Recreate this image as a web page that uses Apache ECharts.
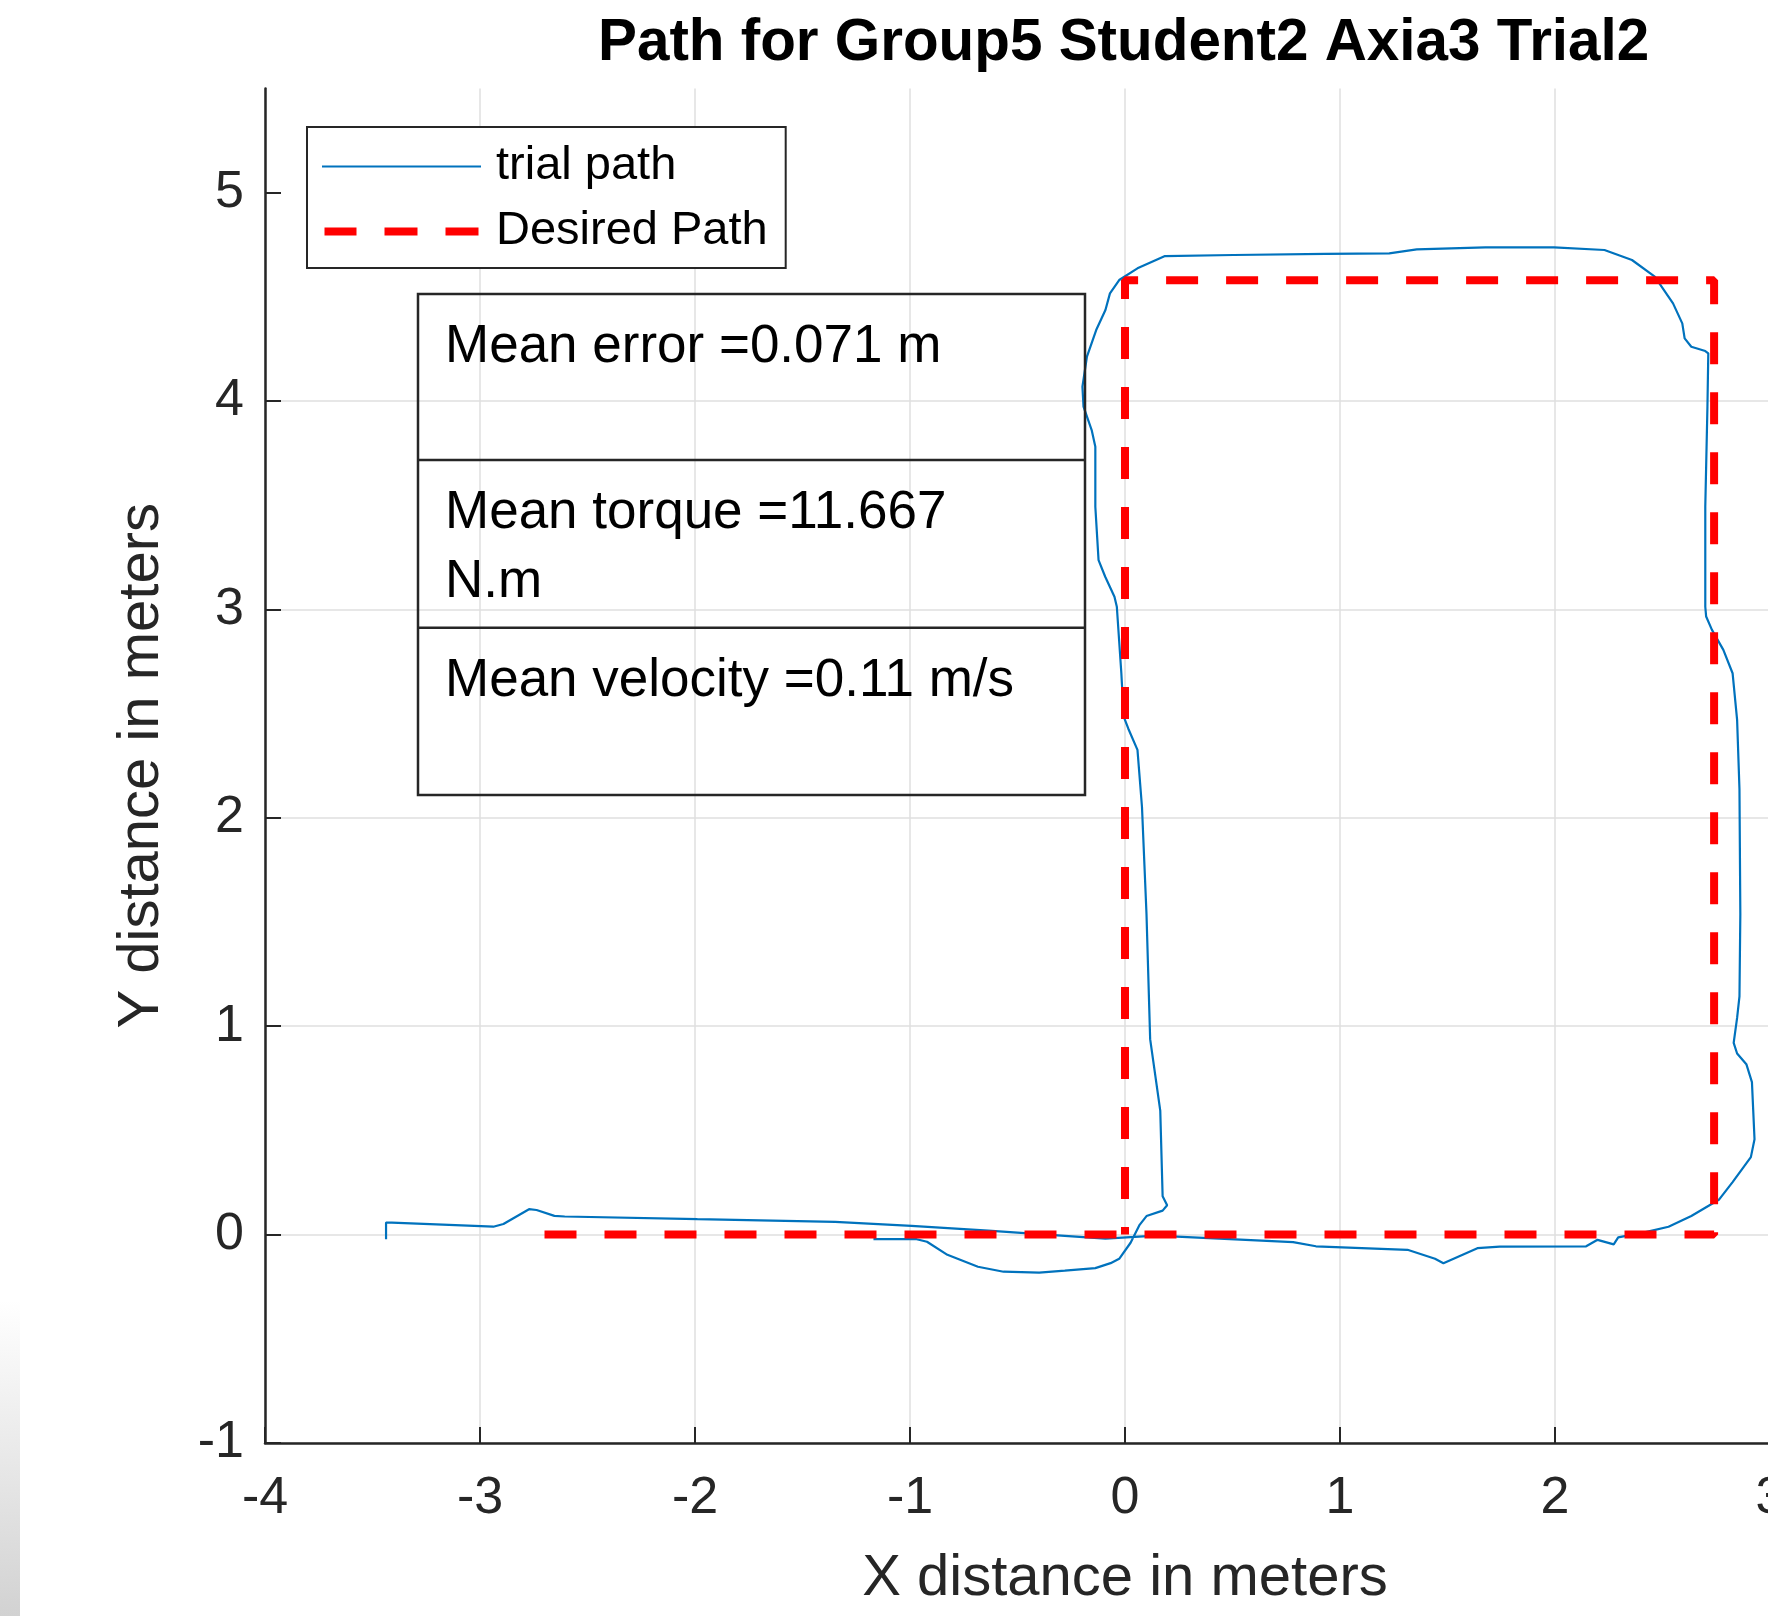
<!DOCTYPE html>
<html>
<head>
<meta charset="utf-8">
<title>Path for Group5 Student2 Axia3 Trial2</title>
<script src="https://cdn.jsdelivr.net/npm/echarts@6/dist/echarts.min.js"></script>
<style>
  html, body { margin: 0; padding: 0; background: #fff; overflow: hidden; }
  #chart { width: 1768px; height: 1616px; }
</style>
</head>
<body>
<div id="chart"></div>
<script>
var FONT = '"Liberation Sans", Arial, Helvetica, sans-serif';

// tick values
var xTicks = [-4, -3, -2, -1, 0, 1, 2, 3, 4];
var yTicks = [-1, 0, 1, 2, 3, 4, 5];

var trialPath = [
  [-3.437, -0.022], [-3.437, 0.058], [-3.41, 0.058], [-2.938, 0.038], [-2.891, 0.051],
  [-2.772, 0.122], [-2.737, 0.118], [-2.654, 0.090], [-2.606, 0.087], [-1.989, 0.074],
  [-1.348, 0.061], [-0.993, 0.042], [-0.636, 0.019], [-0.280, -0.006], [-0.091, -0.019],
  [0.143, -0.005], [0.782, -0.036], [0.888, -0.056], [1.314, -0.073], [1.442, -0.116],
  [1.481, -0.137], [1.639, -0.065], [1.743, -0.058], [2.145, -0.056], [2.198, -0.025],
  [2.273, -0.047], [2.294, -0.013], [2.421, 0.012], [2.528, 0.038], [2.634, 0.089],
  [2.762, 0.167], [2.826, 0.252], [2.911, 0.372], [2.928, 0.458], [2.922, 0.595],
  [2.916, 0.732], [2.890, 0.818], [2.847, 0.869], [2.831, 0.920], [2.847, 1.040],
  [2.858, 1.143], [2.862, 1.537], [2.858, 2.137], [2.847, 2.470], [2.826, 2.694],
  [2.783, 2.806], [2.730, 2.902], [2.703, 2.966], [2.699, 3.013], [2.699, 3.493],
  [2.709, 3.973], [2.713, 4.229], [2.699, 4.240], [2.634, 4.261], [2.603, 4.301],
  [2.592, 4.373], [2.549, 4.469], [2.464, 4.597], [2.358, 4.677], [2.230, 4.725],
  [1.996, 4.738], [1.676, 4.738], [1.357, 4.728], [1.229, 4.709], [0.931, 4.706],
  [0.505, 4.701], [0.186, 4.696], [0.058, 4.637], [-0.027, 4.581], [-0.070, 4.517],
  [-0.091, 4.437], [-0.134, 4.341], [-0.177, 4.213], [-0.198, 4.069], [-0.193, 3.973],
  [-0.155, 3.861], [-0.138, 3.781], [-0.138, 3.493], [-0.123, 3.237], [-0.092, 3.157],
  [-0.049, 3.061], [-0.038, 3.013], [-0.017, 2.694], [-0.006, 2.486], [0.015, 2.429],
  [0.058, 2.326], [0.079, 2.052], [0.100, 1.537], [0.117, 0.938], [0.164, 0.595],
  [0.175, 0.184], [0.196, 0.141], [0.175, 0.115], [0.100, 0.089], [0.068, 0.047],
  [0.026, -0.039], [-0.027, -0.116], [-0.067, -0.137], [-0.138, -0.161], [-0.280, -0.173],
  [-0.399, -0.182], [-0.565, -0.178], [-0.684, -0.154], [-0.826, -0.097], [-0.921, -0.034],
  [-0.969, -0.022], [-1.170, -0.022]
];

// desired square path
var desiredPath = [[-2.7, 0], [0, 0], [2.74, 0], [2.74, 4.58], [0, 4.58], [0, 0]];

// annotation rows
var statLines = ['Mean error =0.071 m', 'Mean torque =11.667\nN.m', 'Mean velocity =0.11 m/s'];

var chart = echarts.init(document.getElementById('chart'));

// stats textbox (annotation, drawn as graphic)
var boxLeft = 418, boxTop = 294, boxW = 667, boxH = 501;
var rowTops = [294, 460, 627.7];
var statGraphics = [{
  type: 'rect',
  shape: { x: boxLeft, y: boxTop, width: boxW, height: boxH },
  style: { fill: 'rgba(0,0,0,0)', stroke: '#262626', lineWidth: 2.5 },
  z: 10
}];
for (var i = 1; i < rowTops.length; i++) {
  statGraphics.push({
    type: 'line',
    shape: { x1: boxLeft, y1: rowTops[i], x2: boxLeft + boxW, y2: rowTops[i] },
    style: { stroke: '#262626', lineWidth: 2.5 },
    z: 10
  });
}
statLines.forEach(function (t, i) {
  statGraphics.push({
    type: 'text',
    x: 445,
    y: rowTops[i] + 19.5,
    style: { text: t, font: '53px ' + FONT, fill: '#000', lineHeight: 68.4, verticalAlign: 'top' },
    z: 10
  });
});
// grey vignette at the bottom left edge of the screenshot
statGraphics.push({
  type: 'rect',
  shape: { x: 0, y: 1300, width: 20, height: 316 },
  style: {
    fill: new echarts.graphic.LinearGradient(0, 0, 0, 1, [
      { offset: 0, color: 'rgba(210,210,210,0)' },
      { offset: 1, color: 'rgba(210,210,210,1)' }
    ])
  },
  z: 10
});

var option = {
  animation: false,
  backgroundColor: '#fff',
  title: {
    text: 'Path for Group5 Student2 Axia3 Trial2',
    left: 598,
    top: 15,
    padding: 0,
    textStyle: { fontFamily: FONT, fontSize: 58.4, fontWeight: 'bold', color: '#000' }
  },
  legend: {
    orient: 'vertical',
    left: 307,
    top: 127,
    padding: [16, 18, 13, 15],
    itemWidth: 159,
    itemHeight: 8,
    itemGap: 18,
    backgroundColor: '#fff',
    borderColor: '#262626',
    borderWidth: 2,
    borderRadius: 0,
    selectedMode: false,
    itemStyle: { borderWidth: 0 },
    textStyle: { fontFamily: FONT, fontSize: 47, color: '#000', padding: [0, 0, 0, 10] },
    data: [
      { name: 'trial path', icon: 'path://M0,0H159V2H0Z' },
      { name: 'Desired Path', icon: 'path://M0,0H32V8H0ZM60,0H93V8H60ZM121,0H154V8H121Z' }
    ]
  },
  grid: {
    left: 265,
    top: 88.5,
    width: 1720,
    height: 1354.5,
    containLabel: false,
    outerBoundsMode: 'none'
  },
  xAxis: {
    type: 'value',
    min: xTicks[0],
    max: xTicks[xTicks.length - 1],
    interval: 1,
    name: 'X distance in meters',
    nameLocation: 'middle',
    nameGap: 136,
    nameTextStyle: { fontFamily: FONT, fontSize: 58, color: '#262626', verticalAlign: 'middle' },
    axisLine: { onZero: false, lineStyle: { color: '#262626', width: 2.5 } },
    axisTick: { inside: true, length: 16, lineStyle: { color: '#262626', width: 2 } },
    axisLabel: { margin: 30, fontFamily: FONT, fontSize: 52, color: '#262626' },
    splitLine: { show: true, lineStyle: { color: '#dfdfdf', width: 1.5 } }
  },
  yAxis: {
    type: 'value',
    min: yTicks[0],
    max: 5.5,
    interval: 1,
    name: 'Y distance in meters',
    nameLocation: 'middle',
    nameGap: 123,
    nameTextStyle: { fontFamily: FONT, fontSize: 58, color: '#262626', verticalAlign: 'middle' },
    axisLine: { onZero: false, lineStyle: { color: '#262626', width: 2.5 } },
    axisTick: { inside: true, length: 16, customValues: yTicks, lineStyle: { color: '#262626', width: 2 } },
    axisLabel: { margin: 21, customValues: yTicks, fontFamily: FONT, fontSize: 52, color: '#262626' },
    splitLine: { show: true, showMaxLine: false, lineStyle: { color: '#dfdfdf', width: 1.5 } }
  },
  series: [
    {
      name: 'trial path',
      type: 'line',
      data: trialPath,
      symbol: 'none',
      z: 2,
      lineStyle: { color: '#0072BD', width: 2.2 },
      itemStyle: { color: '#0072BD' }
    },
    {
      name: 'Desired Path',
      type: 'line',
      data: desiredPath,
      symbol: 'none',
      z: 3,
      lineStyle: { color: '#FF0000', width: 8, type: [32, 28], cap: 'butt' },
      itemStyle: { color: '#FF0000' }
    }
  ],
  graphic: { elements: statGraphics }
};

chart.setOption(option);
</script>
</body>
</html>
